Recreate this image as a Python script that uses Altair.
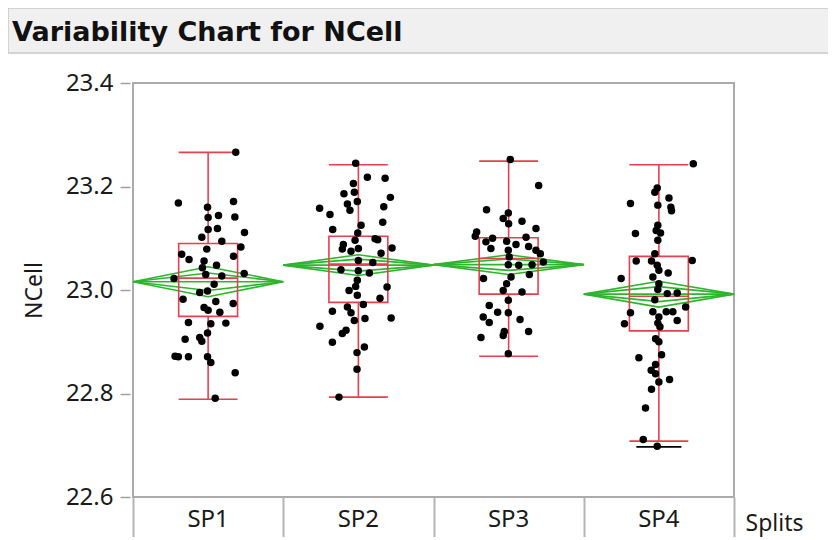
import altair as alt
import pandas as pd

# ---------------- data ----------------
splits = ["SP1", "SP2", "SP3", "SP4"]

sp1_vals = [23.266, 23.168, 23.171, 23.160, 23.144, 23.141, 23.140, 23.119, 23.111, 23.117,
            23.102, 23.094, 23.083, 23.079, 23.069, 23.065, 23.059, 23.056, 23.048, 23.043,
            23.032, 23.030, 23.027, 23.022, 23.011, 22.995, 22.998, 22.982, 22.978, 22.974,
            22.966, 22.961, 22.957, 22.937, 22.935, 22.936, 22.917, 22.905, 22.908, 22.901,
            22.872, 22.871, 22.871, 22.871, 22.860, 22.840, 22.791]
sp1_jit = [0.184, -0.198, 0.169, -0.004, 0.069, 0.178, 0.000, 0.062, 0.242, 0.000,
           -0.042, 0.091, 0.218, -0.009, -0.176, 0.169, -0.127, -0.027, 0.056, -0.038,
           0.240, -0.016, 0.091, -0.227, 0.040, -0.056, -0.004, -0.167, 0.051, 0.167,
           -0.027, 0.000, 0.078, -0.131, 0.018, 0.118, -0.004, -0.153, -0.056, -0.042,
           -0.220, -0.198, -0.131, -0.004, 0.018, 0.180, 0.047]

sp2_vals = [23.245, 23.218, 23.216, 23.206, 23.186, 23.189, 23.179, 23.171, 23.166, 23.158,
            23.154, 23.161, 23.146, 23.131, 23.125, 23.117, 23.110, 23.099, 23.097, 23.096,
            23.088, 23.079, 23.080, 23.081, 23.075, 23.071, 23.057, 23.053, 23.039, 23.037,
            23.033, 23.019, 23.006, 22.999, 23.007, 22.990, 22.984, 22.967, 22.972, 22.959,
            22.956, 22.945, 22.941, 22.946, 22.930, 22.922, 22.916, 22.899, 22.890, 22.879,
            22.847, 22.793]
sp2_jit = [-0.018, 0.060, 0.178, -0.033, -0.096, -0.027, 0.213, -0.007, -0.073, -0.258,
           -0.056, 0.169, -0.189, 0.162, 0.018, -0.171, -0.004, 0.111, 0.129, -0.022,
           -0.100, -0.107, 0.000, 0.224, -0.049, 0.151, 0.000, 0.096, -0.116, 0.000,
           0.073, -0.007, 0.191, -0.062, -0.018, -0.007, 0.144, -0.073, 0.033, -0.173,
           -0.049, 0.044, -0.027, 0.218, -0.256, -0.082, -0.107, -0.173, 0.040, -0.009,
           -0.009, -0.129]

sp3_vals = [23.252, 23.202, 23.155, 23.149, 23.138, 23.133, 23.128, 23.119, 23.112, 23.104,
            23.100, 23.102, 23.093, 23.094, 23.088, 23.084, 23.080, 23.077, 23.077, 23.070,
            23.064, 23.054, 23.049, 23.048, 23.049, 23.030, 23.022, 23.025, 23.012, 22.999,
            22.996, 22.980, 22.970, 22.957, 22.956, 22.948, 22.943, 22.937, 22.920, 22.920,
            22.912, 22.908, 22.877]
sp3_jit = [0.011, 0.200, -0.147, -0.002, -0.036, 0.089, 0.000, 0.182, -0.213, -0.222,
           -0.107, 0.116, -0.151, -0.013, 0.049, 0.133, -0.118, 0.182, -0.002, 0.211,
           0.004, 0.231, -0.002, 0.067, 0.156, 0.138, -0.167, 0.016, -0.013, -0.036,
           0.089, -0.002, -0.129, -0.073, -0.002, -0.169, 0.076, -0.129, 0.133, -0.029,
           -0.036, -0.184, -0.002]

sp4_vals = [23.244, 23.197, 23.189, 23.178, 23.167, 23.164, 23.160, 23.153, 23.125, 23.115,
            23.109, 23.110, 23.096, 23.070, 23.056, 23.057, 23.056, 23.048, 23.038, 23.033,
            23.022, 23.025, 23.012, 23.001, 22.993, 22.994, 22.981, 22.967, 22.956, 22.958,
            22.958, 22.958, 22.948, 22.941, 22.935, 22.936, 22.929, 22.906, 22.900, 22.875,
            22.869, 22.856, 22.845, 22.838, 22.827, 22.822, 22.808, 22.772, 22.711, 22.698]
sp4_jit = [0.229, -0.011, -0.027, 0.067, -0.189, -0.007, 0.080, 0.084, -0.007, -0.018,
           -0.156, 0.011, -0.007, -0.027, -0.151, 0.222, -0.049, -0.011, 0.000, 0.062,
           -0.251, -0.040, 0.000, -0.007, 0.056, 0.122, -0.027, 0.178, -0.189, -0.040,
           0.049, 0.093, 0.000, 0.122, -0.229, -0.007, 0.007, -0.022, 0.000, 0.018,
           -0.133, -0.022, -0.051, -0.022, 0.071, 0.000, -0.049, -0.089, -0.104, -0.011]

# box-plot summaries
q1 = [22.949, 22.976, 22.992, 22.921]
median = [23.023, 23.050, 23.061, 22.988]
q3 = [23.090, 23.104, 23.101, 23.065]
whisker_lo = [22.789, 22.793, 22.872, 22.708]
whisker_hi = [23.266, 23.242, 23.249, 23.242]

# mean diamonds (green)
means = [23.016, 23.048, 23.049, 22.992]
diamond_half = [0.029, 0.020, 0.019, 0.025]
overlap_ratio = 0.58

# black reference mark in SP4
black_mark_split = 3
black_mark_value = 22.697

# ---------------- styling ----------------
RED = "#e6404f"
GREEN = "#2db52d"
FONT = "Noto Sans"
TXT = "#1a1a1a"
BOX_HALF = 0.196
W, H = 601, 414

# ---------------- tables ----------------
all_vals = [sp1_vals, sp2_vals, sp3_vals, sp4_vals]
all_jit = [sp1_jit, sp2_jit, sp3_jit, sp4_jit]
rows = []
for i, (vals, jits) in enumerate(zip(all_vals, all_jit)):
    for v, j in zip(vals, jits):
        rows.append({"split": splits[i], "x": i + 0.5 + j, "y": v})
points = pd.DataFrame(rows)

box = pd.DataFrame({
    "split": splits,
    "xc": [i + 0.5 for i in range(4)],
    "xl": [i + 0.5 - BOX_HALF for i in range(4)],
    "xr": [i + 0.5 + BOX_HALF for i in range(4)],
    "q1": q1, "med": median, "q3": q3, "lo": whisker_lo, "hi": whisker_hi,
})

drows = []
for i in range(4):
    m, h = means[i], diamond_half[i]
    for name, hh in (("outer", h), ("inner", h * overlap_ratio)):
        pts = [(i, m), (i + 0.5, m + hh), (i + 1, m), (i + 0.5, m - hh), (i, m)]
        for k, (px, py) in enumerate(pts):
            drows.append({"path": f"{splits[i]}_{name}", "x": px, "y": py, "o": k})
    drows.append({"path": f"{splits[i]}_mean", "x": i, "y": m, "o": 0})
    drows.append({"path": f"{splits[i]}_mean", "x": i + 1, "y": m, "o": 1})
diamonds = pd.DataFrame(drows)

labels = pd.DataFrame({"split": splits, "xc": [i + 0.5 for i in range(4)]})
black = pd.DataFrame({"x": [black_mark_split + 0.35], "x2": [black_mark_split + 0.65],
                      "y": [black_mark_value]})
one = pd.DataFrame({"a": [0]})

xscale = alt.Scale(domain=[0, 4], nice=False, zero=False)
yscale = alt.Scale(domain=[22.6, 23.4], nice=False, zero=False)

xaxis = alt.Axis(values=[0, 1, 2, 3, 4], labels=False, domain=False, grid=False,
                 tickSize=44, tickColor="#b4b4b4", tickWidth=2,
                 title="Splits", titleFont=FONT, titleFontSize=23, titleFontWeight="normal",
                 titleColor=TXT, titleX=612, titleY=33, titleAlign="left",
                 titleBaseline="alphabetic", titleAnchor="start")
yaxis = alt.Axis(values=[22.6, 22.8, 23.0, 23.2, 23.4], format=".1f", grid=False, domain=False,
                 tickSize=10, tickColor="#a0a0a0", tickWidth=1.5, offset=3, labelPadding=7,
                 labelFont=FONT, labelFontSize=24, labelColor=TXT,
                 title="NCell", titleFont=FONT, titleFontSize=23, titleFontWeight="normal",
                 titleColor=TXT, titleX=-84, titleY=207, titleAngle=-90)

X = alt.X("x:Q", scale=xscale, axis=xaxis)
Y = alt.Y("y:Q", scale=yscale, axis=yaxis)

title_bar = alt.Chart(one).mark_rect(fill="#f0f0f0", stroke="#c8c8c8", strokeWidth=1.5).encode(
    x=alt.value(-125), x2=alt.value(720), y=alt.value(-75), y2=alt.value(-30))
title_txt = alt.Chart(one).mark_text(text="Variability Chart for NCell", font="DejaVu Sans",
                                     fontSize=27, fontWeight="bold", color="#111111",
                                     align="left", baseline="alphabetic").encode(
    x=alt.value(-121), y=alt.value(-42))

diamond_layer = alt.Chart(diamonds).mark_line(color=GREEN, strokeWidth=1.6).encode(
    x=X, y=Y, detail="path:N", order="o:Q")

box_rect = alt.Chart(box).mark_rect(fillOpacity=0, stroke=RED, strokeWidth=1.6).encode(
    x=alt.X("xl:Q", scale=xscale, axis=xaxis), x2="xr:Q",
    y=alt.Y("q1:Q", scale=yscale, axis=yaxis), y2="q3:Q")
box_med = alt.Chart(box).mark_rule(color=RED, strokeWidth=1.6).encode(
    x=alt.X("xl:Q", scale=xscale, axis=xaxis), x2="xr:Q",
    y=alt.Y("med:Q", scale=yscale, axis=yaxis))
wh_up = alt.Chart(box).mark_rule(color=RED, strokeWidth=1.6).encode(
    x=alt.X("xc:Q", scale=xscale, axis=xaxis),
    y=alt.Y("q3:Q", scale=yscale, axis=yaxis), y2="hi:Q")
wh_dn = alt.Chart(box).mark_rule(color=RED, strokeWidth=1.6).encode(
    x=alt.X("xc:Q", scale=xscale, axis=xaxis),
    y=alt.Y("q1:Q", scale=yscale, axis=yaxis), y2="lo:Q")
cap_hi = alt.Chart(box).mark_rule(color=RED, strokeWidth=1.6).encode(
    x=alt.X("xl:Q", scale=xscale, axis=xaxis), x2="xr:Q",
    y=alt.Y("hi:Q", scale=yscale, axis=yaxis))
cap_lo = alt.Chart(box).mark_rule(color=RED, strokeWidth=1.6).encode(
    x=alt.X("xl:Q", scale=xscale, axis=xaxis), x2="xr:Q",
    y=alt.Y("lo:Q", scale=yscale, axis=yaxis))

pts_layer = alt.Chart(points).mark_circle(color="black", opacity=1, size=56).encode(x=X, y=Y)

black_layer = alt.Chart(black).mark_rule(color="black", strokeWidth=1.8).encode(
    x=X, x2="x2:Q", y=Y)

cat_labels = alt.Chart(labels).mark_text(font=FONT, fontSize=24, color=TXT,
                                         baseline="alphabetic").encode(
    x=alt.X("xc:Q", scale=xscale, axis=xaxis), y=alt.value(H + 30), text="split:N")

chart = alt.layer(
    title_bar, title_txt, diamond_layer, box_rect, box_med, wh_up, wh_dn, cap_hi, cap_lo,
    pts_layer, black_layer, cat_labels
).properties(
    width=W, height=H,
    autosize=alt.AutoSizeParams(type="none"),
    padding={"left": 125, "top": 75, "right": 94, "bottom": 40},
    background="white",
).configure_view(stroke="#ababab", strokeWidth=2)

chart.save("out.html", embed_options={"renderer": "svg", "actions": False})
